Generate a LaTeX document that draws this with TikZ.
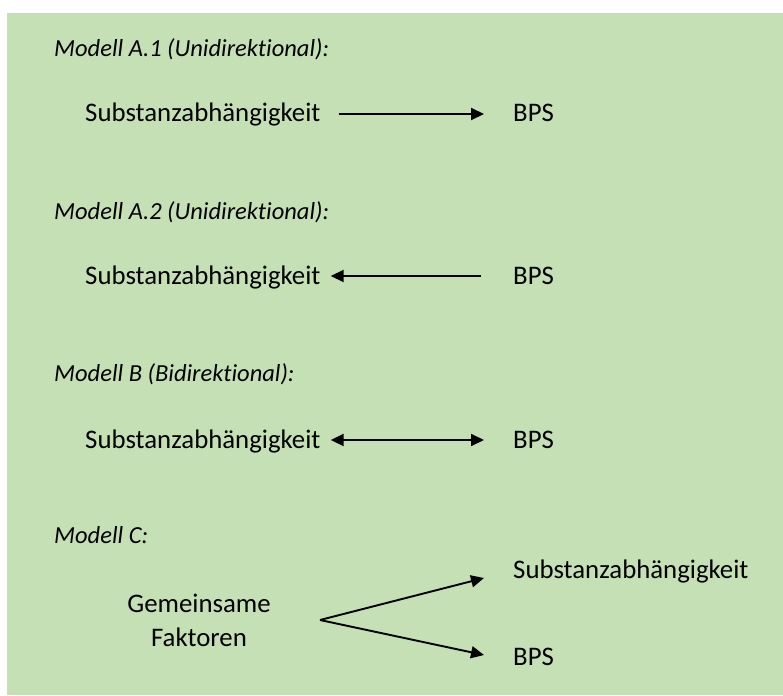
\documentclass[tikz,border=0pt]{standalone}
\usepackage{fontspec}
\setmainfont{Carlito}[Ligatures={NoCommon}]
\usetikzlibrary{arrows.meta}
\definecolor{panelgreen}{HTML}{C5E0B4}
\tikzset{
  lbl/.style={anchor=base west, inner sep=0pt, font=\fontsize{26.8}{34}\selectfont},
  head/.style={anchor=base west, inner sep=0pt, font=\fontsize{24.5}{29}\selectfont\itshape},
  tip/.style={Triangle[length=13pt,width=12pt]},
  conn/.style={line width=1.9pt, -{Triangle[length=13pt,width=12pt]}},
  biconn/.style={line width=1.9pt, {Triangle[length=13pt,width=12pt]}-{Triangle[length=13pt,width=12pt]}}
}
\begin{document}
\begin{tikzpicture}[x=1pt,y=-1pt]
  % page and panel
  \fill[white] (0,0) rectangle (783,695);
  \useasboundingbox (0,0) rectangle (783,695);
  \fill[panelgreen] (7,13) rectangle (783,695);

  % Modell A.1
  \node[head] (hA1) at (54,57) {Modell A.1 (Unidirektional):};
  \node[lbl] (sA1) at (85,122) {Substanzabhängigkeit};
  \node[lbl] (bA1) at (513,122) {BPS};
  \draw[conn] ([xshift=18pt]sA1.east |- 0,114) -- ([xshift=-29pt]bA1.west |- 0,114);

  % Modell A.2
  \node[head] (hA2) at (54,219) {Modell A.2 (Unidirektional):};
  \node[lbl] (sA2) at (85,284) {Substanzabhängigkeit};
  \node[lbl] (bA2) at (513,284) {BPS};
  \draw[conn] ([xshift=-32pt]bA2.west |- 0,276) -- ([xshift=10pt]sA2.east |- 0,276);

  % Modell B
  \node[head] (hB) at (54,381) {Modell B (Bidirektional):};
  \node[lbl] (sB) at (85,448) {Substanzabhängigkeit};
  \node[lbl] (bB) at (513,448) {BPS};
  \draw[biconn] ([xshift=10pt]sB.east |- 0,440) -- ([xshift=-29pt]bB.west |- 0,440);

  % Modell C
  \node[head] (hC) at (54,543) {Modell C:};
  \node[lbl] (sC) at (513,578) {Substanzabhängigkeit};
  \node[lbl] (bC) at (513,665) {BPS};
  \node[inner sep=0pt, align=center, font=\fontsize{26.8}{34}\selectfont] (gf) at (199,620) {Gemeinsame\\Faktoren};
  \coordinate (fork) at (320,620);
  \draw[conn] (fork) -- (484,578);
  \draw[conn] (fork) -- (484,655);
\end{tikzpicture}
\end{document}
